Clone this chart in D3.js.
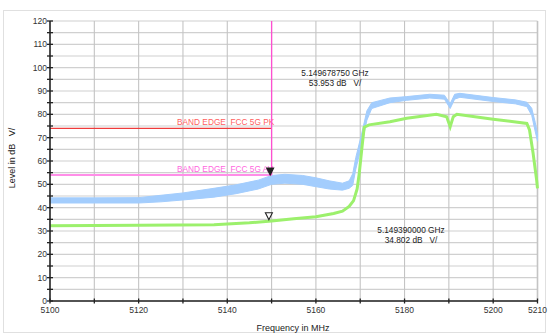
<!DOCTYPE html>
<html><head><meta charset="utf-8">
<script src="https://cdn.jsdelivr.net/npm/d3@7"></script>
<style>body{margin:0;background:#fff;}svg{display:block;font-family:"Liberation Sans",Arial,sans-serif;}text{white-space:pre;}</style>
</head><body>
<script>
// ---- data ----
const xTicks = [5100, 5110, 5120, 5130, 5140, 5150, 5160, 5170, 5180, 5190, 5200, 5210];
const xTickLabels = [5100, 5120, 5140, 5160, 5180, 5200, 5210];
const yTicks = [0, 10, 20, 30, 40, 50, 60, 70, 80, 90, 100, 110, 120];
// peak trace (blue) as min/max envelope
const peakFreq = [5100, 5110, 5120, 5125, 5130, 5137, 5142, 5147, 5150, 5153, 5157, 5160, 5163, 5166, 5167.5, 5168.3, 5169, 5170.3, 5171.5, 5172.6, 5176.7, 5180.5, 5185.7, 5189, 5190.3, 5191.3, 5192.5, 5200, 5205, 5207.6, 5208.7, 5209.5, 5210];
const peakLow  = [42, 42, 42, 42.5, 43.3, 44.5, 46, 48, 50, 50.5, 50, 49, 48, 47.5, 48.3, 49.5, 56.5, 66.5, 77.5, 82.5, 85, 86, 87, 86.5, 82.5, 86.5, 87.3, 85.5, 84.5, 83.3, 79.5, 72.5, 68.5];
const peakHigh = [44.2, 44.2, 44.3, 45.3, 46.3, 48.3, 49.8, 51.8, 53.8, 54.3, 53.8, 52.8, 51.5, 50.5, 51.5, 54.5, 61.5, 71.5, 81.5, 85, 87, 87.6, 88.6, 88.2, 84.6, 88.6, 89, 87.2, 86.2, 85.2, 82.6, 76.5, 71.5];
// average trace (green)
const avgFreq = [5100, 5120, 5137, 5145, 5150, 5155, 5160, 5164, 5166, 5167.5, 5168.5, 5169.3, 5169.8, 5170.4, 5170.9, 5172, 5176.7, 5180.5, 5187.2, 5189.5, 5190.3, 5191, 5191.8, 5200, 5207.6, 5208.2, 5209, 5209.8, 5210];
const avgLevel = [32.3, 32.5, 32.7, 33.5, 34.3, 35.2, 36.1, 37.5, 38.5, 40.5, 43, 48, 55, 66, 74.5, 75.5, 76.8, 78.3, 80, 79, 74.7, 79, 80, 77.9, 76.1, 73.3, 63.4, 51.9, 48.3];
// limit lines
const limitNames = ["BAND EDGE  FCC 5G PK", "BAND EDGE  FCC 5G AV"];
const limitLevels = [74, 54];
const limitStart = 5100, limitEnd = 5150;
// markers
const markerFreq = [5149.67875, 5149.39];
const markerLevel = [53.953, 34.802];
const markerText1 = ["5.149678750 GHz", "5.149390000 GHz"];
const markerText2 = ["53.953 dB   V/", "34.802 dB   V/"];

// ---- drawing ----
const W = 549, H = 336;
const svg = d3.select("body").append("svg").attr("width", W).attr("height", H);
const x = d3.scaleLinear().domain([5100, 5210]).range([50, 537.5]);
const y = d3.scaleLinear().domain([0, 120]).range([301, 21]);

svg.append("rect").attr("x", 3.5).attr("y", 10.5).attr("width", 542).attr("height", 322)
  .attr("fill", "none").attr("stroke", "#e0e0e0");

// grid
const minorY = d3.range(0, 121, 5);
svg.append("g").selectAll("line").data(minorY).join("line")
  .attr("x1", x(5100)).attr("x2", x(5210)).attr("y1", d => y(d)).attr("y2", d => y(d))
  .attr("stroke", "#d0d0d0").attr("stroke-width", 1.2);
svg.append("g").selectAll("line").data(xTicks.slice(1)).join("line")
  .attr("x1", d => x(d)).attr("x2", d => x(d)).attr("y1", y(120)).attr("y2", y(0))
  .attr("stroke", "#c4c4c4").attr("stroke-width", d => d === 5210 ? 1.6 : 1.1);

// traces
const peakArea = d3.area().x((d, i) => x(peakFreq[i])).y0((d, i) => y(peakLow[i])).y1((d, i) => y(peakHigh[i]));
svg.append("path").datum(peakFreq).attr("d", peakArea).attr("fill", "#a3cdfd").attr("stroke", "#a3cdfd").attr("stroke-width", 1);
const avgLine = d3.line().x((d, i) => x(avgFreq[i])).y((d, i) => y(avgLevel[i]));
svg.append("path").datum(avgFreq).attr("d", avgLine).attr("fill", "none").attr("stroke", "#9cf06c").attr("stroke-width", 3);

// limit lines
const limColors = ["#ee3b3b", "#ff8ee8"];
const limText = ["#ff6060", "#ff66e0"];
limitLevels.forEach((lv, i) => {
  svg.append("line").attr("x1", x(limitStart)).attr("x2", x(limitEnd)).attr("y1", y(lv)).attr("y2", y(lv))
    .attr("stroke", limColors[i]).attr("stroke-width", i === 0 ? 1.2 : 2);
  svg.append("text").attr("x", 177).attr("y", y(lv) - 3).attr("font-size", 8.3).attr("fill", limText[i]).text(limitNames[i]);
});
// marker vertical line
svg.append("line").attr("x1", x(5150)).attr("x2", x(5150)).attr("y1", y(120)).attr("y2", y(markerLevel[0]))
  .attr("stroke", "#ff4fd0").attr("stroke-width", 1.3);

// markers
markerFreq.forEach((f, i) => {
  const mx = x(f), my = y(markerLevel[i]);
  svg.append("path").attr("d", `M${mx - 3.5},${my - 7}L${mx + 3.5},${my - 7}L${mx},${my}Z`)
    .attr("fill", i === 0 ? "#222" : "#fff").attr("stroke", "#222").attr("stroke-width", 1.1);
});
const mTextPos = [[335, 76, 86], [411, 233, 243]];
markerFreq.forEach((f, i) => {
  const [tx, t1, t2] = mTextPos[i];
  svg.append("text").attr("x", tx).attr("y", t1).attr("text-anchor", "middle").attr("font-size", 8.3).attr("fill", "#222").text(markerText1[i]);
  svg.append("text").attr("x", tx).attr("y", t2).attr("text-anchor", "middle").attr("font-size", 8.3).attr("fill", "#222").text(markerText2[i]);
});

// axes
const ax = svg.append("g").attr("stroke", "#222");
ax.append("line").attr("x1", x(5100)).attr("x2", x(5100)).attr("y1", y(120)).attr("y2", y(0)).attr("stroke-width", 1.6);
ax.append("line").attr("x1", x(5100)).attr("x2", x(5210)).attr("y1", y(0)).attr("y2", y(0)).attr("stroke-width", 1.3);
ax.selectAll(".yt").data(minorY).join("line").attr("class", "yt")
  .attr("x1", x(5100) - 3).attr("x2", x(5100) + 3).attr("y1", d => y(d)).attr("y2", d => y(d)).attr("stroke-width", 1.3);
ax.selectAll(".xt").data(xTicks).join("line").attr("class", "xt")
  .attr("x1", d => x(d)).attr("x2", d => x(d)).attr("y1", y(0) - 2.5).attr("y2", y(0) + 2.5).attr("stroke-width", 1.3);

svg.append("g").selectAll("text").data(yTicks).join("text")
  .attr("x", 47).attr("y", d => y(d) + 3).attr("text-anchor", "end").attr("font-size", 8.5).attr("fill", "#333").text(d => d);
svg.append("g").selectAll("text").data(xTickLabels).join("text")
  .attr("x", d => x(d)).attr("y", 313).attr("text-anchor", "middle").attr("font-size", 8.5).attr("fill", "#333").text(d => d);

svg.append("text").attr("x", 293).attr("y", 331).attr("text-anchor", "middle").attr("font-size", 9).attr("fill", "#222").text("Frequency in MHz");
svg.append("text").attr("transform", "translate(15,158) rotate(-90)").attr("text-anchor", "middle").attr("font-size", 9).attr("fill", "#222").text("Level in dB   V/");
</script>
</body></html>
